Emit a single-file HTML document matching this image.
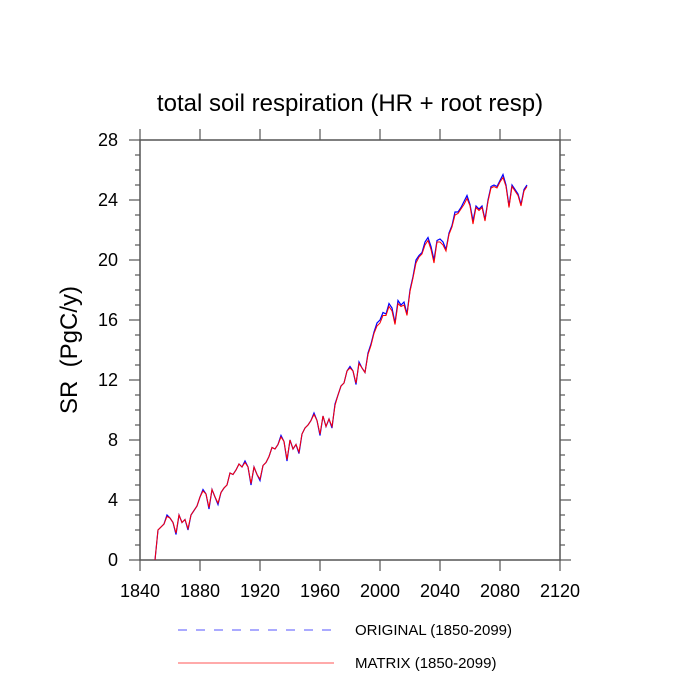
<!DOCTYPE html>
<html><head><meta charset="utf-8"><style>
body{margin:0;background:#fff;}
svg{display:block;font-family:"Liberation Sans",sans-serif;}
</style></head><body>
<svg id="chart" width="700" height="700">
<text x="350" y="111" font-size="24" text-anchor="middle">total soil respiration (HR + root resp)</text>
<text transform="translate(77,350) rotate(-90)" font-size="24" text-anchor="middle" xml:space="preserve" style="white-space:pre">SR  (PgC/y)</text>
<g id="axes"></g>
<g id="series"></g>
<g>
<line x1="178" y1="630" x2="334" y2="630" stroke="#55f" stroke-width="1" stroke-dasharray="9,9"/>
<text x="355" y="635" font-size="15">ORIGINAL (1850-2099)</text>
<line x1="178" y1="663" x2="334" y2="663" stroke="#f55" stroke-width="1"/>
<text x="355" y="668" font-size="15">MATRIX (1850-2099)</text>
</g>
</svg>
<script>
const startYear = 1850;
const yearStep = 2;
const original = [0,2.0,2.2,2.4,3.0,2.8,2.5,1.7,3.0,2.5,2.7,2.0,3.0,3.3,3.6,4.2,4.7,4.4,3.4,4.7,4.2,3.7,4.5,4.8,5.0,5.8,5.7,6.0,6.4,6.2,6.6,6.2,5.0,6.2,5.7,5.3,6.3,6.5,6.9,7.5,7.4,7.7,8.3,7.9,6.6,8.0,7.4,7.7,7.1,8.4,8.8,9.0,9.3,9.8,9.3,8.3,9.6,8.9,9.4,8.8,10.4,11.0,11.6,11.8,12.6,12.9,12.6,11.7,13.2,12.8,12.5,13.8,14.4,15.2,15.8,16.0,16.5,16.4,17.1,16.8,15.8,17.3,17.0,17.2,16.4,18.0,18.9,20.0,20.3,20.5,21.2,21.5,20.9,20.0,21.3,21.4,21.2,20.7,21.8,22.3,23.2,23.2,23.5,23.9,24.3,23.7,22.6,23.6,23.4,23.6,22.7,24.0,24.9,25.0,24.9,25.3,25.7,25.0,23.6,25.0,24.7,24.4,23.7,24.7,25.0];
const matrix = [0,2.0,2.2,2.4,2.9,2.8,2.5,1.8,3.0,2.5,2.7,2.1,3.0,3.3,3.6,4.2,4.6,4.4,3.5,4.7,4.2,3.8,4.5,4.8,5.0,5.8,5.7,6.0,6.4,6.2,6.5,6.2,5.1,6.2,5.7,5.4,6.3,6.5,6.9,7.5,7.4,7.7,8.2,7.9,6.7,8.0,7.4,7.7,7.2,8.4,8.8,9.0,9.3,9.7,9.3,8.4,9.6,8.9,9.4,8.9,10.3,11.0,11.6,11.8,12.6,12.8,12.6,11.8,13.1,12.8,12.5,13.7,14.3,15.1,15.6,15.8,16.3,16.3,16.9,16.6,15.7,17.1,16.9,17.0,16.3,17.9,18.8,19.8,20.2,20.4,21.0,21.3,20.7,19.8,21.2,21.2,21.0,20.6,21.7,22.2,23.0,23.1,23.4,23.7,24.1,23.6,22.4,23.5,23.3,23.5,22.6,23.9,24.8,24.9,24.8,25.2,25.5,24.9,23.5,24.9,24.6,24.3,23.6,24.6,24.9];
const xTicks = [1840,1880,1920,1960,2000,2040,2080,2120];
const yTicks = [0,4,8,12,16,20,24,28];

const L=140,R=560,T=140,B=560;
const xS = yr => L + (yr-1840)/(2120-1840)*(R-L);
const yS = v => B - v/28*(B-T);
const NS="http://www.w3.org/2000/svg";
function mk(tag, attrs, parent){const e=document.createElementNS(NS,tag);for(const k in attrs)e.setAttribute(k,attrs[k]);parent.appendChild(e);return e;}
const axes=document.getElementById('axes'), ser=document.getElementById('series');
const ac="#555";
const frame=mk('rect',{x:L,y:T,width:R-L,height:B-T,fill:'none',stroke:ac,'stroke-width':1.5},axes);


for(let v=0;v<=28;v++){
  const y=yS(v), len=(v%4===0)?11:5;
  mk('line',{x1:L-len,y1:y,x2:L,y2:y,stroke:ac,'stroke-width':1.2},axes);
  mk('line',{x1:R,y1:y,x2:R+len,y2:y,stroke:ac,'stroke-width':1.2},axes);
}
yTicks.forEach(v=>{
  const t=mk('text',{x:L-22,y:yS(v)+6,'font-size':18,'text-anchor':'end'},axes);
  t.textContent=v;
  
  
});
xTicks.forEach(yr=>{
  const x=xS(yr);
  mk('line',{x1:x,y1:B,x2:x,y2:B+11,stroke:ac,'stroke-width':1.2},axes);
  mk('line',{x1:x,y1:T-11,x2:x,y2:T,stroke:ac,'stroke-width':1.2},axes);
  const t=mk('text',{x:x,y:B+37,'font-size':18,'text-anchor':'middle'},axes);
  t.textContent=yr;
  
  
});
function path(arr){return arr.map((v,i)=>(i?'L':'M')+xS(startYear+i*yearStep).toFixed(1)+','+yS(v).toFixed(1)).join('');}
const p1=mk('path',{d:path(original),fill:'none',stroke:'#0000ff','stroke-width':1.2},ser);


const p2=mk('path',{d:path(matrix),fill:'none',stroke:'#ff0000','stroke-width':1},ser);


</script>
</body></html>
